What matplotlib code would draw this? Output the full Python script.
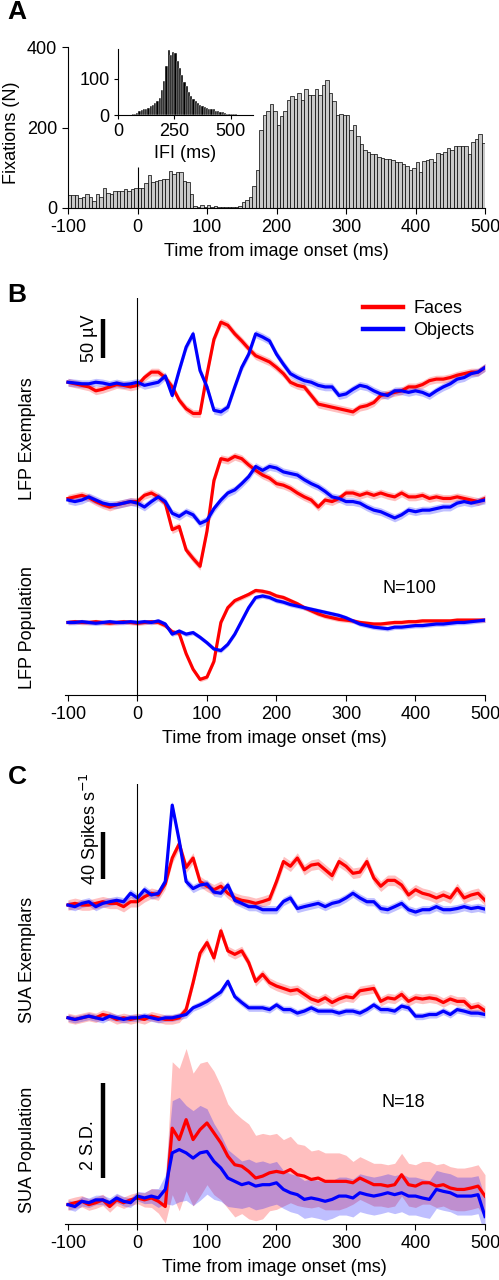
import numpy as np
import matplotlib
matplotlib.use("Agg")
import matplotlib.pyplot as plt

plt.rcParams['font.family'] = ['Liberation Sans', 'DejaVu Sans']
plt.rcParams['font.size'] = 13
plt.rcParams['axes.unicode_minus'] = False

# ---- panel A: fixation onset histogram (5 ms bins, -100..495) ----
fix_t = np.arange(-100, 500, 5)
fix_n = [32, 32, 32, 24, 28, 34, 28, 17, 34, 28, 49, 38, 36, 43, 43, 41, 46, 42, 47, 49,
         50, 49, 61, 82, 65, 67, 70, 71, 71, 92, 84, 90, 89, 68, 64, 36, 5, 3, 7, 3,
         7, 3, 6, 3, 2, 3, 3, 3, 3, 6, 16, 20, 28, 55, 95, 195, 230, 240, 258, 240,
         205, 228, 240, 268, 278, 270, 285, 268, 295, 280, 280, 295, 280, 305, 318, 285, 265, 232, 233, 232,
         232, 195, 205, 180, 160, 145, 140, 135, 135, 127, 125, 122, 122, 120, 115, 115, 110, 105, 95, 100,
         115, 90, 118, 120, 122, 115, 137, 133, 138, 150, 145, 155, 155, 155, 155, 135, 165, 172, 185, 162]

# inset: inter-fixation interval histogram (10 ms bins)
ifi_t = np.arange(0, 600, 10)
ifi_n = [0, 0, 0, 0, 0, 1, 2, 3, 6, 10, 14, 16, 18, 20, 24, 28, 33, 38, 48, 70,
         95, 135, 180, 165, 175, 172, 150, 130, 110, 92, 80, 65, 52, 45, 38, 32, 28, 25, 22, 20,
         18, 17, 16, 12, 10, 9, 7, 5, 4, 3, 3, 2, 2, 1, 1, 1, 0, 0, 0, 0]

# ---- traces: time -100..500 ms, 10 ms steps ----
t = np.arange(-100, 501, 10)

# LFP (uV, relative to baseline)
lfp1_faces = [0, -2, -4, -6, -11, -9, -6, -3, -4, -6, -4,
              6, 13, 13, 6, -6, -23, -34, -40, -40, 10,
              55, 77, 73, 62, 53, 43, 34, 30, 26, 19,
              11, 0, -4, -6, -17, -28, -30, -32, -34, -36,
              -38, -32, -30, -26, -17, -15, -13, -11, -6, -6,
              -3, 2, 4, 4, 6, 9, 11, 13, 13, 19]
lfp1_objects = [0, -1, -2, -2, 0, -1, -3, -1, -3, -2, 0,
                -4, -2, 0, 8, -17, 15, 45, 62, 15, -6,
                -36, -38, -32, -6, 19, 36, 62, 58, 53, 36,
                23, 11, 6, 2, 0, -4, -6, -6, -17, -15,
                -9, -4, -6, -11, -15, -17, -11, -11, -13, -11,
                -13, -17, -11, -6, -2, 4, 6, 11, 13, 19]
lfp2_faces = [2, 4, 6, 3, -2, -6, -9, -6, -4, -2, -2,
              6, 9, 4, -4, -38, -34, -64, -75, -85, -40,
              25, 53, 51, 56, 53, 45, 38, 32, 28, 21,
              19, 15, 9, 4, 0, -9, 0, -2, 2, 9,
              9, 6, 9, 6, 9, 6, 4, 9, 4, 4,
              6, 2, 4, 2, 2, 4, 2, 0, -2, 2]
lfp2_objects = [0, -2, 0, 4, 0, -4, -6, -6, -4, -2, -4,
                -9, -2, 4, -2, -17, -21, -15, -19, -30, -26,
                -11, 0, 9, 13, 21, 30, 43, 38, 43, 41,
                36, 34, 32, 26, 21, 17, 11, 4, 2, -2,
                -2, -4, -9, -13, -15, -19, -23, -19, -13, -15,
                -13, -13, -11, -9, -9, -4, -2, -4, -2, 0]
lfp_pop_faces = [0, 1, 0, 0, 1, 0, -1, 0, 1, 0, -1,
                 0, 1, 0, -4, -12, -14, -40, -60, -73, -70,
                 -50, 0, 19, 28, 32, 36, 41, 40, 38, 34,
                 32, 28, 24, 19, 15, 11, 8, 6, 4, 3,
                 2, 0, -1, -2, -2, -1, 0, 0, 1, 1,
                 2, 2, 2, 2, 2, 3, 3, 3, 3, 3]
lfp_pop_objects = [0, 0, 1, 0, -1, 0, 1, 0, 0, 1, 0,
                   1, 0, 2, -2, -15, -11, -15, -13, -19, -26,
                   -34, -36, -28, -15, 2, 19, 32, 34, 32, 28,
                   26, 23, 21, 19, 17, 15, 13, 11, 9, 6,
                   2, -2, -4, -6, -7, -8, -6, -6, -5, -4,
                   -4, -3, -2, -2, -1, 0, 0, 1, 2, 3]
lfp_sem = [5, 5, 3]

# SUA exemplars (spikes/s, relative to baseline)
sua1_faces = [0, 1.4, 0, 0, 1.4, 2.8, 1.4, 1.4, -1.4, 2.8, 2.8,
              7, 10, 8.5, 18, 40, 52, 32, 40, 20, 16,
              13, 16, 10, 6, 4, 3, 1.4, 3, 5, 20,
              37, 33, 40, 30, 34, 35, 30, 25, 37, 33,
              27, 28, 37, 23, 16, 21, 21, 17, 8.5, 13,
              10, 8.5, 6, 8.5, 6, 14, 6, 8.5, 10, 4]
sua1_objects = [0, -1.4, 1.4, 2.8, -1.4, 1.4, 2.8, 4, 2.8, 10, 6,
                13, 8.5, 10, 20, 85, 55, 20, 14, 17, 18,
                11, 10, 17, 4, 1.4, -1.4, -1.4, -4, -4, -4,
                3, 6, -3, -1.4, 0, 1.4, -1.4, 1.4, 2.8, 6,
                10, 6, 2.8, 2.8, -3, -4, -1.4, 1.4, -4, -6,
                -4, -4, -1.4, -4, -4, -3, -1.4, -3, -2, -3.5]
sua2_faces = [0, -1.4, 0, 1.4, 0, 2.8, 1.4, -1.4, 0, -1.4, 0,
              -1.4, 1.4, 0, -1.4, -1.4, 0, 7, 30, 55, 64,
              51, 74, 57, 54, 57, 47, 31, 37, 30, 27,
              25, 23, 24, 20, 16, 14, 17, 13, 16, 18,
              17, 23, 24, 25, 14, 17, 16, 20, 14, 17,
              16, 17, 16, 13, 16, 14, 14, 8.5, 10, 6]
sua2_objects = [0, -1.4, 0, 1.4, 0, -1.4, 1.4, 0, -1.4, 0, 0,
                1.4, 0, -1.4, 0, 0, 1.4, 2.8, 8.5, 11, 14,
                18, 22, 31, 18, 13, 8.5, 8.5, 8.5, 7, 11,
                7, 7, 4, 5.7, 8.5, 5.7, 5.7, 5.7, 4, 5.7,
                5.7, 4, 7, 11, 7, 7, 5.7, 10, 8.5, 1.4,
                1.4, 2.8, 2.8, 5.7, 2.8, 7, 5.7, 4, 4, 2.8]

# SUA population (S.D. units)
sua_pop_faces = [0, 0.04, 0.07, 0, 0.04, 0.1, -0.04, 0.1, 0.04, 0.1, 0.14,
                 0.1, 0.14, 0.07, -0.04, 1.61, 1.37, 1.79, 1.37, 1.58, 1.72,
                 1.51, 1.30, 1.02, 0.84, 0.81, 0.70, 0.56, 0.60, 0.67, 0.70,
                 0.67, 0.74, 0.63, 0.60, 0.53, 0.56, 0.49, 0.49, 0.49, 0.49,
                 0.46, 0.56, 0.49, 0.42, 0.42, 0.39, 0.42, 0.63, 0.42, 0.39,
                 0.46, 0.46, 0.39, 0.42, 0.35, 0.32, 0.32, 0.35, 0.39, 0.18]
sua_pop_objects = [0, -0.04, 0.07, 0.04, 0.1, 0.1, 0.04, 0.14, 0.07, 0.04, 0.18,
                   0.14, 0.18, 0.14, 0.32, 1.09, 1.16, 1.09, 0.98, 1.09, 1.12,
                   0.91, 0.77, 0.56, 0.49, 0.42, 0.46, 0.39, 0.42, 0.42, 0.46,
                   0.32, 0.25, 0.21, 0.11, 0.14, 0.11, 0.07, 0.11, 0.18, 0.18,
                   0.14, 0.25, 0.21, 0.18, 0.21, 0.25, 0.21, 0.25, 0.18, 0.18,
                   0.14, 0.11, 0.32, 0.28, 0.25, 0.18, 0.18, 0.18, 0.21, -0.25]
sua_pop_faces_sem = [0.12] * 11 + [0.15, 0.2, 0.25, 0.35, 1.4, 1.5, 1.5, 1.4, 1.4, 1.3,
                                   1.3, 1.2, 1.1, 1.1, 1.0, 1.0, 0.9, 0.9, 0.8, 0.8,
                                   0.7, 0.7, 0.65, 0.65, 0.6, 0.6, 0.6, 0.6, 0.6, 0.55] + [0.45] * 20
sua_pop_objects_sem = [0.1] * 11 + [0.12, 0.15, 0.2, 0.3, 1.1, 1.1, 1.0, 1.0, 1.0, 0.9,
                                    0.8, 0.7, 0.6, 0.55, 0.5, 0.5, 0.5, 0.5, 0.45, 0.45] + [0.4] * 30

RED, BLUE = '#ff0000', '#0000ff'
W, H = 499, 1280


def fx(px):
    return px / W


def fy(py):
    return 1 - py / H


def trace(ax, y, sem, color, off, lw=2.3):
    y = np.asarray(y, float) + off
    sem = np.asarray(sem, float) * np.ones_like(y)
    ax.fill_between(t, y - sem, y + sem, color=color, alpha=0.25, lw=0)
    ax.plot(t, y, color=color, lw=lw, solid_joinstyle='round')


def time_axis(ax):
    ax.set_xlim(-105, 500)
    ax.set_xticks(range(-100, 501, 100))
    for s in ['top', 'right', 'left']:
        ax.spines[s].set_visible(False)
    ax.set_yticks([])
    ax.tick_params(axis='x', direction='out', length=4, width=0.8, pad=4)
    ax.set_xlabel('Time from image onset (ms)', labelpad=5)
    ax.axvline(0, color='k', lw=0.8)


fig = plt.figure(figsize=(W / 100, H / 100), dpi=100)

# ---- A ----
axA = fig.add_axes([fx(68), fy(208), fx(485) - fx(68), fy(47) - fy(208)])
axA.bar(fix_t, fix_n, width=5, align='edge', color='#c8c8c8', edgecolor='black', lw=0.5)
axA.vlines(0, 0, 103, color='k', lw=0.8)
axA.set_xlim(-100, 500)
axA.set_ylim(0, 400)
axA.set_xticks(range(-100, 501, 100))
axA.set_yticks([0, 200, 400])
for s in ['top', 'right']:
    axA.spines[s].set_visible(False)
axA.tick_params(direction='out', length=4, width=0.8, pad=4)
axA.set_xlabel('Time from image onset (ms)', labelpad=5)
fig.text(fx(12), fy(133), 'Fixations (N)', rotation=90, ha='center', va='center')

axI = fig.add_axes([fx(118), fy(115), fx(253) - fx(118), fy(49) - fy(115)])
axI.bar(ifi_t, ifi_n, width=10, align='edge', color='black', edgecolor='white', lw=0.3)
axI.set_xlim(0, 600)
axI.set_ylim(0, 183)
axI.set_xticks([0, 250, 500])
axI.set_yticks([0, 100])
for s in ['top', 'right']:
    axI.spines[s].set_visible(False)
axI.tick_params(direction='out', length=3, width=0.8, pad=3)
axI.set_xlabel('IFI (ms)', labelpad=3)

# ---- B ----
axB = fig.add_axes([fx(64.5), fy(695), fx(485) - fx(64.5), fy(298) - fy(695)])
axB.set_ylim(-401, 108)
lfp_offsets = [0, -151, -308]
lfp_pairs = [(lfp1_faces, lfp1_objects), (lfp2_faces, lfp2_objects), (lfp_pop_faces, lfp_pop_objects)]
for (fc, ob), off, sem in zip(lfp_pairs, lfp_offsets, lfp_sem):
    trace(axB, fc, sem, RED, off)
    trace(axB, ob, sem, BLUE, off)
time_axis(axB)
axB.plot([-50, -50], [31, 81], color='k', lw=3.2, solid_capstyle='butt')
axB.text(-69, 56, '50 µV', rotation=90, ha='center', va='center')
axB.text(391, -264, 'N=100', ha='center', va='center')
axB.plot([], [], color=RED, lw=3.2, label='Faces')
axB.plot([], [], color=BLUE, lw=3.2, label='Objects')
axB.legend(loc='upper left', bbox_to_anchor=(fx(363), fy(300)), bbox_transform=fig.transFigure,
           frameon=False, borderpad=0, borderaxespad=0, handlelength=2.2, handletextpad=0.6,
           labelspacing=0.3)
fig.text(fx(28), fy(439), 'LFP Exemplars', rotation=90, ha='center', va='center')
fig.text(fx(28), fy(628), 'LFP Population', rotation=90, ha='center', va='center')

# ---- C ----
axC = fig.add_axes([fx(64.5), fy(1224), fx(485) - fx(64.5), fy(784) - fy(1224)])
axC.set_ylim(-271.5, 103)
sd_scale = 40.4  # display units per S.D. (2 S.D. bar vs 40 spikes/s bar)
trace(axC, sua1_faces, 4.5, RED, 0)
trace(axC, sua1_objects, 3.5, BLUE, 0)
trace(axC, sua2_faces, 4, RED, -96)
trace(axC, sua2_objects, 3, BLUE, -96)
trace(axC, np.array(sua_pop_faces) * sd_scale, np.array(sua_pop_faces_sem) * sd_scale, RED, -255)
trace(axC, np.array(sua_pop_objects) * sd_scale, np.array(sua_pop_objects_sem) * sd_scale, BLUE, -255)
time_axis(axC)
axC.plot([-50, -50], [22, 62], color='k', lw=3.2, solid_capstyle='butt')
axC.text(-69, 65, '40 Spikes s$^{-1}$', rotation=90, ha='center', va='center', clip_on=False)
axC.plot([-49, -49], [-151.5, -232], color='k', lw=3.2, solid_capstyle='butt')
axC.text(-70, -204, '2 S.D.', rotation=90, ha='center', va='center')
axC.text(383, -168.5, 'N=18', ha='center', va='center')
fig.text(fx(28), fy(960), 'SUA Exemplars', rotation=90, ha='center', va='center')
fig.text(fx(28), fy(1150), 'SUA Population', rotation=90, ha='center', va='center')

fig.text(fx(17), fy(0), 'A', fontsize=19, fontweight='bold', ha='center', va='top')
fig.text(fx(17), fy(295), 'B', fontsize=19, fontweight='bold', ha='center', va='center')
fig.text(fx(17), fy(777), 'C', fontsize=19, fontweight='bold', ha='center', va='center')

fig.savefig('out.png', dpi=100)
